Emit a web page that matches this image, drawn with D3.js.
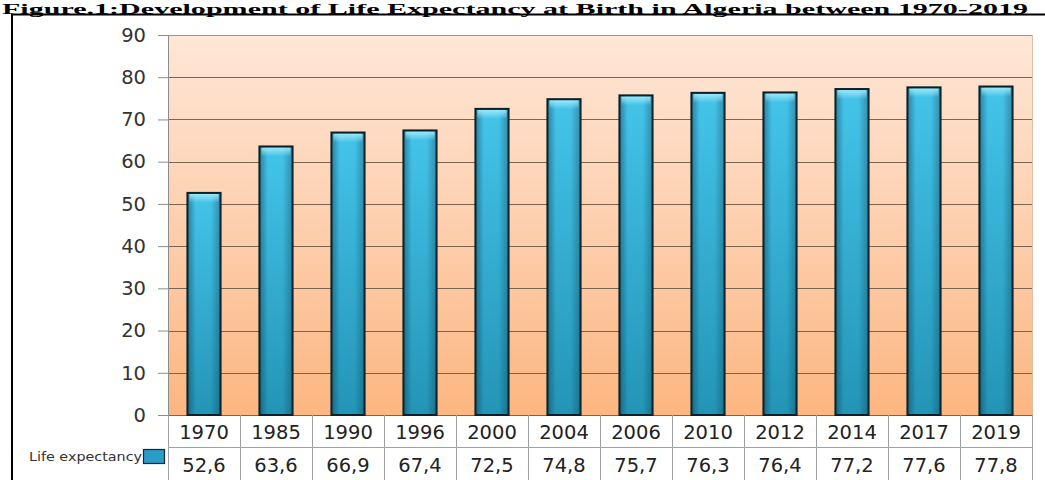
<!DOCTYPE html>
<html><head><meta charset="utf-8">
<script src="https://cdn.jsdelivr.net/npm/d3@7"></script>
<style>html,body{margin:0;padding:0;background:#fff;overflow:hidden}</style>
</head><body><svg id="c" width="1045" height="480"></svg>
<script>
const years = ["1970","1985","1990","1996","2000","2004","2006","2010","2012","2014","2017","2019"];
const lifeExpectancy = [52.6,63.6,66.9,67.4,72.5,74.8,75.7,76.3,76.4,77.2,77.6,77.8];
const yTicks = [0,10,20,30,40,50,60,70,80,90];
const seriesName = "Life expectancy";
const titleText = "Figure.1:Development of Life Expectancy at Birth in Algeria between 1970-2019";

const svg = d3.select("#c");
const L = 168, R = 1032, T = 35, B = 415;
const rowH = 32;
const x = d3.scaleBand().domain(years).range([L, R]).paddingInner(0.54).paddingOuter(0.27);
const xb = d3.scaleBand().domain(years).range([L, R]);
const y = d3.scaleLinear().domain([0, 90]).range([B, T]);
const FONT = "DejaVu Sans, Verdana, sans-serif";

const defs = svg.append("defs");
const bg = defs.append("linearGradient").attr("id","bg").attr("x1",0).attr("y1",0).attr("x2",0).attr("y2",1);
bg.append("stop").attr("offset","0%").attr("stop-color","#fee7d7");
bg.append("stop").attr("offset","50%").attr("stop-color","#fdcfae");
bg.append("stop").attr("offset","100%").attr("stop-color","#fbb681");
const barV = defs.append("linearGradient").attr("id","barV").attr("x1",0).attr("y1",0).attr("x2",0).attr("y2",1);
barV.append("stop").attr("offset","0%").attr("stop-color","#44c4ea");
barV.append("stop").attr("offset","100%").attr("stop-color","#2394b6");
const edge = defs.append("linearGradient").attr("id","edge").attr("x1",0).attr("y1",0).attr("x2",1).attr("y2",0);
edge.append("stop").attr("offset","0%").attr("stop-color","#06303f").attr("stop-opacity",0.45);
edge.append("stop").attr("offset","25%").attr("stop-color","#06303f").attr("stop-opacity",0);
edge.append("stop").attr("offset","70%").attr("stop-color","#06303f").attr("stop-opacity",0);
edge.append("stop").attr("offset","100%").attr("stop-color","#06303f").attr("stop-opacity",0.35);
const hl = defs.append("linearGradient").attr("id","hl").attr("x1",0).attr("y1",0).attr("x2",0).attr("y2",1);
hl.append("stop").attr("offset","0%").attr("stop-color","#a6ecfb").attr("stop-opacity",0.9);
hl.append("stop").attr("offset","100%").attr("stop-color","#a6ecfb").attr("stop-opacity",0);

// title
svg.append("text").attr("x", 2).attr("y", 13.5)
  .attr("font-family","Liberation Serif, Times New Roman, serif").attr("font-weight","bold")
  .attr("font-size", 15).attr("textLength", 1026).attr("lengthAdjust","spacingAndGlyphs")
  .attr("fill","#000").text(titleText);

// frame
svg.append("line").attr("x1",11).attr("x2",1045).attr("y1",14.5).attr("y2",14.5).attr("stroke","#000").attr("stroke-width",2);
svg.append("line").attr("x1",12).attr("x2",12).attr("y1",14).attr("y2",480).attr("stroke","#000").attr("stroke-width",2);

// plot background
svg.append("rect").attr("x",L).attr("y",T).attr("width",R-L).attr("height",B-T).attr("fill","url(#bg)");
svg.append("line").attr("x1",R+0.5).attr("x2",R+0.5).attr("y1",T).attr("y2",B).attr("stroke","#dcbfa3").attr("stroke-width",1);

// gridlines
svg.append("g").selectAll("line").data(yTicks).join("line")
  .attr("x1",L).attr("x2",R).attr("y1",d=>Math.round(y(d))+0.5).attr("y2",d=>Math.round(y(d))+0.5)
  .attr("stroke",d=>d===90?"#b39072":"#7a6452").attr("stroke-width",1);

// y axis
const yAxis = d3.axisLeft(y).tickValues(yTicks).tickSize(10).tickPadding(12);
const ga = svg.append("g").attr("transform",`translate(${L},0)`).call(yAxis);
ga.select(".domain").attr("stroke","#8c8c8c");
ga.selectAll(".tick line").attr("stroke","#8c8c8c");
ga.selectAll(".tick text").attr("font-family",FONT).attr("font-size",19.5).attr("fill","#333");

// bars
const gb = svg.append("g");
gb.selectAll("rect.b").data(lifeExpectancy).join("rect").attr("class","b")
  .attr("x",(d,i)=>x(years[i])).attr("y",d=>y(d)).attr("width",x.bandwidth()).attr("height",d=>B-y(d))
  .attr("fill","url(#barV)");
gb.selectAll("rect.e").data(lifeExpectancy).join("rect").attr("class","e")
  .attr("x",(d,i)=>x(years[i])).attr("y",d=>y(d)).attr("width",x.bandwidth()).attr("height",d=>B-y(d))
  .attr("fill","url(#edge)");
gb.selectAll("rect.h").data(lifeExpectancy).join("rect").attr("class","h")
  .attr("x",(d,i)=>x(years[i])+2).attr("y",d=>y(d)+1).attr("width",x.bandwidth()-4).attr("height",9)
  .attr("fill","url(#hl)");
gb.selectAll("rect.o").data(lifeExpectancy).join("rect").attr("class","o")
  .attr("x",(d,i)=>x(years[i])).attr("y",d=>y(d)).attr("width",x.bandwidth()).attr("height",d=>B-y(d))
  .attr("fill","none").attr("stroke","#0a1f28").attr("stroke-width",2);

// data table
const tb = svg.append("g");
const gridC = "#a0a0a0";
tb.append("line").attr("x1",L).attr("x2",R).attr("y1",B+rowH+0.5).attr("y2",B+rowH+0.5).attr("stroke",gridC);
tb.selectAll("line.v").data(years.concat(["end"])).join("line").attr("class","v")
  .attr("x1",(d,i)=>i<years.length?Math.round(xb(d))+0.5:R+0.5)
  .attr("x2",(d,i)=>i<years.length?Math.round(xb(d))+0.5:R+0.5)
  .attr("y1",B).attr("y2",480).attr("stroke",gridC);
tb.selectAll("text.yr").data(years).join("text").attr("class","yr")
  .attr("x",d=>xb(d)+xb.bandwidth()/2).attr("y",B+24).attr("text-anchor","middle")
  .attr("font-family",FONT).attr("font-size",19.5).attr("fill","#222").text(d=>d);
tb.selectAll("text.val").data(lifeExpectancy).join("text").attr("class","val")
  .attr("x",(d,i)=>xb(years[i])+xb.bandwidth()/2).attr("y",B+rowH+25).attr("text-anchor","middle")
  .attr("font-family",FONT).attr("font-size",19.5).attr("fill","#222")
  .text(d=>d3.format(".1f")(d).replace(".",","));

// legend
svg.append("text").attr("x",29).attr("y",461)
  .attr("font-family",FONT).attr("font-size",13).attr("textLength",113).attr("lengthAdjust","spacingAndGlyphs")
  .attr("fill","#333").text(seriesName);
svg.append("rect").attr("x",143.5).attr("y",449.5).attr("width",21).attr("height",14)
  .attr("fill","#2a9cc8").attr("stroke","#0c2b38").attr("stroke-width",1.2);
</script></body></html>
